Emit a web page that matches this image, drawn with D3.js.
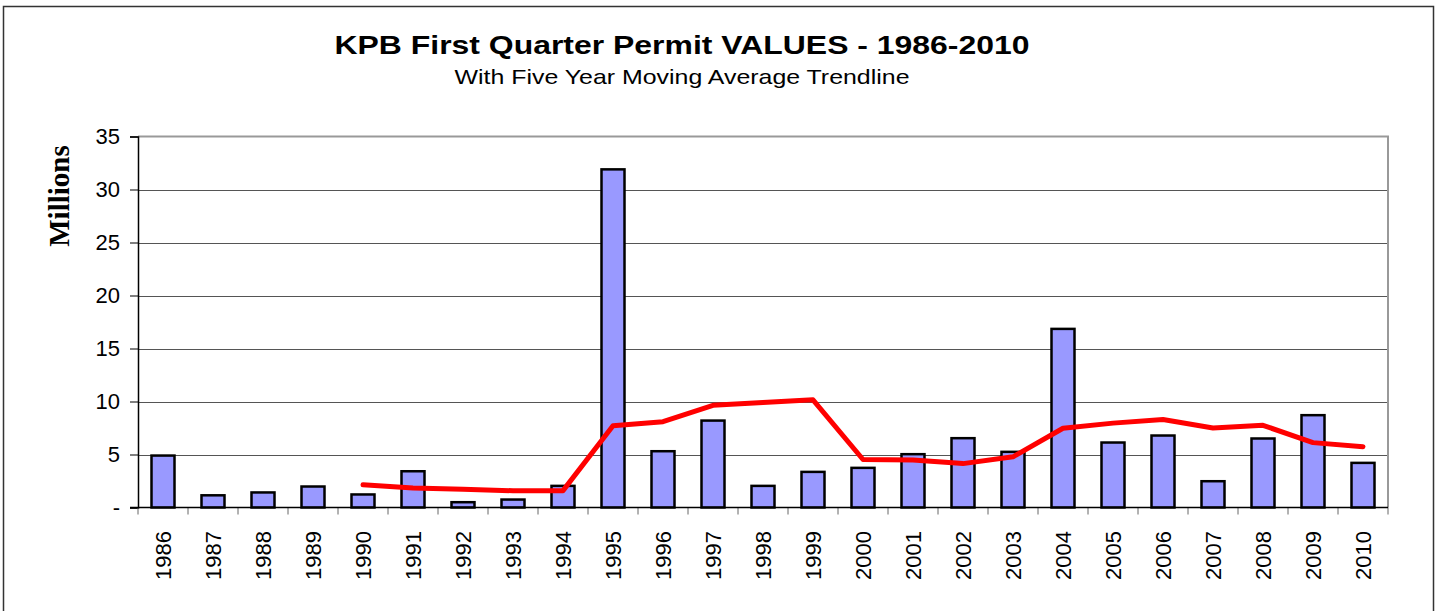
<!DOCTYPE html>
<html>
<head>
<meta charset="utf-8">
<script src="https://cdn.jsdelivr.net/npm/d3@7"></script>
<style>
  body { margin: 0; background: #fff; }
</style>
</head>
<body>
<div class="chart"></div>
<script>
// data (millions of dollars)
const years = ['1986','1987','1988','1989','1990','1991','1992','1993','1994','1995','1996','1997','1998',
               '1999','2000','2001','2002','2003','2004','2005','2006','2007','2008','2009','2010'];
const permitValues = [4.9, 1.15, 1.42, 1.98, 1.23, 3.42, 0.5, 0.75, 2.04, 31.9, 5.31, 8.2, 2.04,
                      3.36, 3.74, 5.03, 6.54, 5.25, 16.85, 6.13, 6.79, 2.48, 6.51, 8.71, 4.21];
// five year moving average trendline, starts at 1990
const trendYears = ['1990','1991','1992','1993','1994','1995','1996','1997','1998','1999','2000','2001',
                    '2002','2003','2004','2005','2006','2007','2008','2009','2010'];
const trendValues = [2.14, 1.84, 1.71, 1.58, 1.59, 7.72, 8.1, 9.64, 9.9, 10.16, 4.53, 4.47,
                     4.14, 4.78, 7.48, 7.96, 8.31, 7.5, 7.75, 6.12, 5.74];
const yTicks = [0, 5, 10, 15, 20, 25, 30, 35];

const width = 1439;
const height = 611;
const plotLeft = 138, plotRight = 1388, plotTop = 136.5, plotBottom = 507.5;
const sans = '"Liberation Sans", Arial, sans-serif';

const svg = d3.select('.chart')
    .append('svg')
    .attr('width', width)
    .attr('height', height);

// outer chart frame
svg.append('rect')
    .attr('x', 3.5).attr('y', 6.5)
    .attr('width', 1430).attr('height', 620)
    .attr('fill', 'none')
    .attr('stroke', '#333')
    .attr('stroke-width', 1.5);

// titles (the original text is a bit stretched sideways)
svg.append('text')
    .attr('x', 682).attr('y', 54)
    .attr('text-anchor', 'middle')
    .attr('textLength', 695)
    .attr('lengthAdjust', 'spacingAndGlyphs')
    .style('font-family', sans)
    .style('font-weight', 'bold')
    .style('font-size', '26px')
    .text('KPB First Quarter Permit VALUES - 1986-2010');

svg.append('text')
    .attr('x', 682).attr('y', 84)
    .attr('text-anchor', 'middle')
    .attr('textLength', 455)
    .attr('lengthAdjust', 'spacingAndGlyphs')
    .style('font-family', sans)
    .style('font-size', '21px')
    .text('With Five Year Moving Average Trendline');

const x = d3.scaleBand().domain(years).range([plotLeft, plotRight]);
const y = d3.scaleLinear().domain([0, 35]).range([plotBottom, plotTop]);

// gridlines
svg.selectAll('.grid')
    .data(yTicks.filter(d => d > 0 && d < 35))
    .enter()
    .append('line')
    .attr('x1', plotLeft).attr('x2', plotRight)
    .attr('y1', d => Math.round(y(d)) + 0.5)
    .attr('y2', d => Math.round(y(d)) + 0.5)
    .attr('stroke', '#555')
    .attr('stroke-width', 1);

// plot area top and right border (grey)
svg.append('path')
    .attr('d', `M${plotLeft},${plotTop} H${plotRight} V${plotBottom}`)
    .attr('fill', 'none')
    .attr('stroke', '#999')
    .attr('stroke-width', 2);

// y axis
const yAxis = d3.axisLeft(y)
    .tickValues(yTicks)
    .tickSize(8)
    .tickPadding(10)
    .tickFormat(d => d === 0 ? '-' : d);

const gy = svg.append('g')
    .attr('transform', `translate(${plotLeft},0)`)
    .call(yAxis);
gy.select('.domain').attr('stroke', '#000').attr('stroke-width', 1.5);
gy.selectAll('.tick line').attr('stroke', '#000');
gy.selectAll('.tick text')
    .style('font-family', sans)
    .style('font-size', '22px')
    .attr('fill', '#000');

// x axis ticks at category boundaries
svg.selectAll('.xtick')
    .data(years.concat(['end']))
    .enter()
    .append('line')
    .attr('x1', (d, i) => plotLeft + i * x.step())
    .attr('x2', (d, i) => plotLeft + i * x.step())
    .attr('y1', plotBottom)
    .attr('y2', plotBottom + 7)
    .attr('stroke', '#666')
    .attr('stroke-width', 1);

// bars
const barW = x.bandwidth() * 0.46;
svg.selectAll('.bar')
    .data(years)
    .enter()
    .append('rect')
    .attr('x', d => x(d) + (x.bandwidth() - barW) / 2)
    .attr('y', (d, i) => y(permitValues[i]))
    .attr('width', barW)
    .attr('height', (d, i) => y(0) - y(permitValues[i]))
    .attr('fill', '#9999ff')
    .attr('stroke', '#000')
    .attr('stroke-width', 2.5);

// x axis baseline
svg.append('line')
    .attr('x1', plotLeft - 8).attr('x2', plotRight)
    .attr('y1', plotBottom).attr('y2', plotBottom)
    .attr('stroke', '#000')
    .attr('stroke-width', 1.5);

// trendline
const line = d3.line()
    .x((d, i) => x(d) + x.bandwidth() / 2)
    .y((d, i) => y(trendValues[i]));

svg.append('path')
    .datum(trendYears)
    .attr('d', line)
    .attr('fill', 'none')
    .attr('stroke', '#ff0000')
    .attr('stroke-width', 5)
    .attr('stroke-linejoin', 'round')
    .attr('stroke-linecap', 'round');

// x labels (rotated)
svg.selectAll('.xlabel')
    .data(years)
    .enter()
    .append('text')
    .attr('transform', d => `translate(${x(d) + x.bandwidth() / 2 + 8},531) rotate(-90)`)
    .attr('text-anchor', 'end')
    .style('font-family', sans)
    .style('font-size', '22px')
    .text(d => d);

// y axis title
svg.append('text')
    .attr('transform', 'translate(69,196) rotate(-90)')
    .attr('text-anchor', 'middle')
    .style('font-family', '"Liberation Serif", "Times New Roman", serif')
    .style('font-weight', 'bold')
    .style('font-size', '29px')
    .text('Millions');
</script>
</body>
</html>
